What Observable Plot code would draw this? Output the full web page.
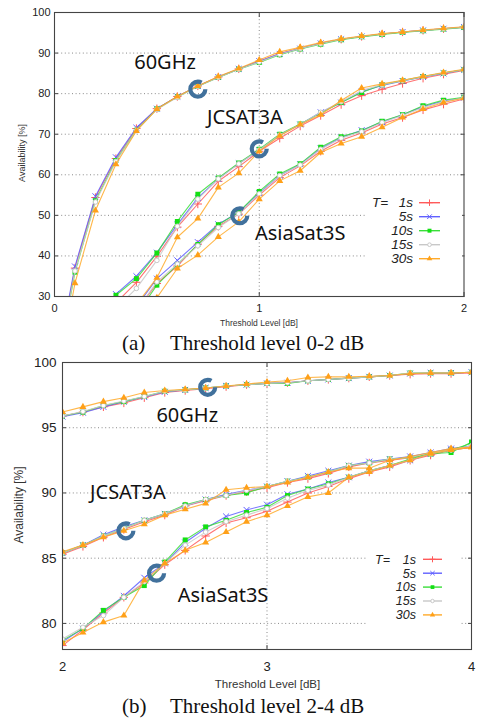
<!DOCTYPE html>
<html><head><meta charset="utf-8">
<script src="https://cdn.jsdelivr.net/npm/d3@7"></script>
<script src="https://cdn.jsdelivr.net/npm/@observablehq/plot@0.6"></script>
<style>
body{margin:0;background:#fff;}
#wrap{position:relative;width:477px;height:720px;overflow:hidden;background:#fff;font-family:"Liberation Sans",Arial,sans-serif;}
.abs{position:absolute;white-space:nowrap;line-height:1;}
.cap{font-family:"Liberation Serif","Times New Roman",serif;font-size:21px;color:#111;}
.rot{transform:translate(-50%,-50%) rotate(-90deg);color:#333;}
.xl{transform:translate(-50%,0);color:#333;}
</style></head><body><div id="wrap"></div>
<script>
// ---------- data ----------
const xA = [0.0,0.1,0.2,0.3,0.4,0.5,0.6,0.7,0.8,0.9,1.0,1.1,1.2,1.3,1.4,1.5,1.6,1.7,1.8,1.9,2.0];
const xB = [2.0,2.1,2.2,2.3,2.4,2.5,2.6,2.7,2.8,2.9,3.0,3.1,3.2,3.3,3.4,3.5,3.6,3.7,3.8,3.9,4.0];
const tLabels = ["1s","5s","10s","15s","30s"];
const satNames = ["60GHz","JCSAT3A","AsiaSat3S"];

// Panel (a) 0-2 dB
const a60_1s  = [10,37.0,54.4,64.0,71.4,76.3,79.3,81.9,84.1,86.1,88.0,89.9,91.2,92.4,93.4,94.1,94.7,95.2,95.6,96.0,96.4];
const a60_5s  = [11,37.4,54.7,64.3,71.6,76.3,79.3,81.9,84.1,86.1,88.0,89.8,91.1,92.4,93.4,94.1,94.7,95.2,95.6,96.0,96.4];
const a60_10s = [9,36.0,53.6,63.5,71.0,76.2,79.2,81.8,84.0,86.0,87.7,89.6,91.0,92.2,93.3,94.0,94.6,95.1,95.5,95.9,96.3];
const a60_15s = [9,36.3,53.3,63.3,70.9,76.1,79.1,81.8,84.0,86.0,87.8,89.7,91.1,92.3,93.4,94.1,94.7,95.2,95.6,96.0,96.4];
const a60_30s = [6,33.3,51.2,62.6,70.8,76.2,79.3,81.9,84.2,86.2,88.3,90.3,91.4,92.6,93.5,94.2,94.8,95.2,95.7,96.1,96.5];

const aJC_1s  = [null,null,22,28.4,33.5,39.9,47.1,52.8,58.4,62.0,65.8,69.0,72.0,74.6,77.3,79.5,81.1,82.5,83.8,84.8,85.7];
const aJC_5s  = [null,null,24,30.6,35.0,40.8,47.7,54.3,59.0,62.8,66.1,69.8,72.4,75.4,77.8,80.5,82.0,83.1,84.1,85.0,85.9];
const aJC_10s = [null,null,24,30.3,34.4,40.7,48.5,55.2,59.2,62.9,66.3,70.0,72.5,75.2,77.8,80.3,82.2,83.2,84.2,85.1,85.9];
const aJC_15s = [null,null,21,27.0,32.0,38.9,47.3,54.0,59.0,62.7,66.1,69.8,72.4,75.4,78.0,80.8,82.2,83.2,84.2,85.1,85.9];
const aJC_30s = [null,null,12,20.0,28.0,34.6,44.6,49.2,56.9,60.4,65.8,69.6,72.4,74.8,78.3,81.4,82.4,83.3,84.3,85.2,86.0];

const aAS_1s  = [null,null,null,20,26.5,33.2,37.5,42.9,47.3,50.3,55.0,59.3,62.2,65.8,68.5,70.3,72.5,74.1,76.0,77.4,78.7];
const aAS_5s  = [null,null,null,21,27.5,34.4,38.9,43.4,47.8,50.8,55.5,59.8,62.6,66.5,69.2,71.0,73.0,74.8,76.8,78.2,79.0];
const aAS_10s = [null,null,null,19,25.5,32.8,37.9,42.8,47.7,50.8,55.9,60.2,62.7,66.8,69.4,70.8,73.2,74.8,77.0,78.4,79.1];
const aAS_15s = [null,null,null,20,26.5,33.6,38.0,42.5,47.0,50.4,55.3,59.8,62.4,66.3,69.0,70.6,72.9,74.6,76.6,78.0,79.0];
const aAS_30s = [null,null,null,17,23.5,29.7,36.9,40.2,44.7,48.4,54.0,58.5,61.0,65.5,67.7,69.4,71.7,74.1,76.2,77.8,78.9];

// Panel (b) 2-4 dB
const b60_1s  = [95.9,96.2,96.6,96.9,97.3,97.7,97.85,98.0,98.15,98.3,98.4,98.45,98.6,98.7,98.8,98.9,99.0,99.1,99.15,99.15,99.2];
const b60_5s  = [95.85,96.15,96.6,97.0,97.35,97.75,97.9,98.05,98.2,98.3,98.4,98.45,98.6,98.7,98.8,98.9,99.0,99.15,99.2,99.2,99.25];
const b60_10s = [95.9,96.2,96.7,97.0,97.4,97.8,97.9,98.05,98.2,98.3,98.4,98.4,98.6,98.7,98.8,98.9,99.0,99.2,99.2,99.2,99.25];
const b60_15s = [95.9,96.25,96.7,97.05,97.4,97.8,97.9,98.05,98.2,98.3,98.4,98.45,98.6,98.7,98.8,98.9,99.0,99.2,99.2,99.2,99.25];
const b60_30s = [96.2,96.6,97.0,97.3,97.7,97.85,97.95,98.05,98.2,98.35,98.5,98.6,98.85,98.9,98.9,98.95,99.0,99.15,99.2,99.2,99.25];

const bJC_1s  = [85.3,85.9,86.6,87.2,87.8,88.3,89.0,89.4,89.8,90.1,90.4,90.8,91.1,91.5,92.0,92.3,92.5,92.7,93.0,93.3,93.5];
const bJC_5s  = [85.4,86.0,86.8,87.4,87.9,88.4,89.0,89.5,89.9,90.2,90.5,90.9,91.3,91.7,92.1,92.4,92.6,92.8,93.1,93.4,93.6];
const bJC_10s = [85.4,86.0,86.7,87.3,87.9,88.4,89.1,89.5,89.8,90.0,90.5,90.9,91.2,91.6,92.1,92.3,92.6,92.7,93.0,93.1,93.9];
const bJC_15s = [85.4,86.0,86.7,87.3,87.9,88.4,89.0,89.5,89.8,90.2,90.5,90.9,91.2,91.6,92.1,92.3,92.6,92.7,93.1,93.3,93.6];
const bJC_30s = [85.5,86.0,86.6,87.1,87.6,88.3,88.75,89.2,90.25,90.4,90.5,90.8,91.2,91.6,91.9,91.9,92.5,92.8,93.1,93.4,93.5];

const bAS_1s  = [78.3,79.5,80.8,82.0,83.1,84.5,85.6,86.7,87.7,88.1,88.6,89.3,90.0,90.5,91.1,91.6,92.0,92.5,92.9,93.3,93.5];
const bAS_5s  = [78.6,79.6,80.9,82.1,83.5,84.6,86.2,87.3,88.2,88.7,89.1,89.9,90.3,90.8,91.2,91.7,92.1,92.5,93.0,93.3,93.6];
const bAS_10s = [78.7,79.6,81.0,82.0,82.9,84.7,86.4,87.4,87.9,88.5,88.9,89.8,90.3,90.7,91.2,91.7,92.1,92.6,93.0,93.3,93.8];
const bAS_15s = [78.8,79.7,80.6,82.0,83.2,84.6,86.0,87.0,87.8,88.3,88.8,89.6,90.2,90.6,91.2,91.7,92.1,92.5,93.0,93.3,93.6];
const bAS_30s = [78.5,79.3,80.1,80.6,83.3,84.6,85.6,86.2,87.0,87.8,88.3,89.0,89.7,90.0,91.2,91.6,92.1,92.5,93.0,93.3,93.5];

// axis ticks
const yTicksA = [30,40,50,60,70,80,90,100];
const yTicksB = [80,85,90,95,100];
const xTicksA = [0,1,2];
const xTicksB = [2,3,4];

// annotations (data units)
const annTextA = ["60GHz","JCSAT3A","AsiaSat3S"];
const annXA = [0.54,0.93,1.20];
const annYA = [87.6,74.1,45.5];
const ringXA = [0.70,1.0,0.905];
const ringYA = [81.1,66.4,49.9];
const annTextB = ["60GHz","JCSAT3A","AsiaSat3S"];
const annXB = [2.61,2.32,2.785];
const annYB = [95.9,90.05,82.1];
const ringXB = [2.71,2.31,2.46];
const ringYB = [98.1,87.1,83.85];

// ---------- drawing ----------
const colors = ["#ff5a5a","#6060ff","#3ade3a","#c8c8c8","#ffaa2a"];
const markFill = ["none","none","#14e014","white","#ffa018"];
const markSym = ["plus","times","square","circle","triangle"];
const markR = [2.8,2.8,2.8,2.3,2.6];

function buildRows(xs, sats) {
  const out = [];
  sats.forEach((series, si) => series.forEach((arr, ti) => arr.forEach((v, i) => {
    if (v != null) out.push({x: xs[i], y: v, sat: satNames[si], ti});
  })));
  return out;
}

function panel(o) {
  const rows = buildRows(o.xs, o.sats);
  const marks = [
    Plot.gridY(o.yTicks, {stroke:"#8a8a8a", strokeOpacity:1, strokeDasharray:"1,2.6", strokeWidth:1}),
    Plot.gridX([o.xGrid], {stroke:"#8a8a8a", strokeOpacity:1, strokeDasharray:"1,2.6", strokeWidth:1}),
    Plot.axisY(o.yTicks, {anchor:"left", tickSize:0, tickPadding:o.yPad, fontSize:o.yFont, label:null, tickFormat:d => String(d)}),
    Plot.axisX(o.xTicks, {anchor:"bottom", tickSize:0, tickPadding:o.xPad, fontSize:o.xFont, label:null, tickFormat:d => String(d)}),
    Plot.axisY(o.yTicks, {anchor:"left", tickSize:-4, tickFormat:() => "", label:null, stroke:"#444"}),
    Plot.axisY(o.yTicks, {anchor:"right", tickSize:-4, tickFormat:() => "", label:null, stroke:"#444"}),
    Plot.axisX(o.xTicks, {anchor:"top", tickSize:-4, tickFormat:() => "", label:null, stroke:"#444"}),
    Plot.axisX(o.xTicks, {anchor:"bottom", tickSize:-4, tickFormat:() => "", label:null, stroke:"#444"})
  ];
  for (let ti = 0; ti < 5; ti++) {
    const d = rows.filter(r => r.ti === ti);
    marks.push(Plot.line(d, {x:"x", y:"y", z:"sat", stroke:colors[ti], strokeWidth:1.1, strokeOpacity:0.85, clip:true}));
    marks.push(Plot.dot(d, {x:"x", y:"y", symbol:markSym[ti], r:markR[ti],
      stroke: (ti===2||ti===4) ? "none" : colors[ti], fill: markFill[ti], strokeWidth:1, clip:true}));
  }
  const ringData = o.ringX.map((x, i) => ({x, y: o.ringY[i]}));
  const annData = o.annText.map((t, i) => ({t, x: o.annX[i], y: o.annY[i]}));
  marks.push(Plot.dot(ringData, {x:"x", y:"y", r:7.5, stroke:"#41719c", strokeWidth:4.2, fill:"none", strokeDasharray:"39 8.2"}));
  marks.push(Plot.text(annData, {x:"x", y:"y", text:"t", fontSize:20, fontFamily:"Noto Sans", fill:"#111"}));
  marks.push(Plot.frame({stroke:"#444", strokeWidth:1.1}));
  return Plot.plot({
    width:477, height:o.height,
    marginLeft:o.ml, marginRight:o.mr, marginTop:o.mt, marginBottom:o.mb,
    x:{domain:o.xDomain, label:null}, y:{domain:o.yDomain, label:null},
    style:{fontFamily:"'Liberation Sans', Arial, sans-serif", color:"#222", background:"transparent", overflow:"visible"},
    marks
  });
}

const wrap = document.getElementById("wrap");
function place(el, top) { el.style.position = "absolute"; el.style.left = "0px"; el.style.top = top + "px"; wrap.appendChild(el); }

const pa = panel({xs:xA, sats:[[a60_1s,a60_5s,a60_10s,a60_15s,a60_30s],[aJC_1s,aJC_5s,aJC_10s,aJC_15s,aJC_30s],[aAS_1s,aAS_5s,aAS_10s,aAS_15s,aAS_30s]],
  xDomain:[0,2], xTicks:xTicksA, xGrid:1, yDomain:[30,100], yTicks:yTicksA,
  height:330, ml:54, mr:13.5, mt:12, mb:34, yPad:4, xPad:8, yFont:11, xFont:11,
  annText:annTextA, annX:annXA, annY:annYA, ringX:ringXA, ringY:ringYA});
place(pa, 0);

const pb = panel({xs:xB, sats:[[b60_1s,b60_5s,b60_10s,b60_15s,b60_30s],[bJC_1s,bJC_5s,bJC_10s,bJC_15s,bJC_30s],[bAS_1s,bAS_5s,bAS_10s,bAS_15s,bAS_30s]],
  xDomain:[2,4], xTicks:xTicksB, xGrid:3, yDomain:[78,100], yTicks:yTicksB,
  height:350, ml:62, mr:6, mt:12, mb:51, yPad:6, xPad:12, yFont:13.5, xFont:13,
  annText:annTextB, annX:annXB, annY:annYB, ringX:ringXB, ringY:ringYB});
place(pb, 350);

// ---------- legends ----------
const NS = "http://www.w3.org/2000/svg";
const ov = document.createElementNS(NS, "svg");
ov.setAttribute("width", 477); ov.setAttribute("height", 720);
ov.style.position = "absolute"; ov.style.left = "0"; ov.style.top = "0";
wrap.appendChild(ov);
const symTypes = [d3.symbolPlus, d3.symbolTimes, d3.symbolSquare, d3.symbolCircle, d3.symbolTriangle];
function legend(L) {
  const g = d3.select(ov).append("g");
  g.append("rect").attr("x", L.bx).attr("y", L.by).attr("width", L.bw).attr("height", L.bh).attr("fill", "white");
  g.append("text").attr("x", L.tx).attr("y", L.y0).attr("dy", "0.35em").attr("font-size", L.fs)
    .attr("font-style", "italic").attr("font-family", "'Liberation Sans', Arial, sans-serif").attr("fill", "#222").text("T=");
  tLabels.forEach((t, i) => {
    const y = L.y0 + i * L.dy;
    g.append("text").attr("x", L.tr).attr("y", y).attr("dy", "0.35em").attr("text-anchor", "end").attr("font-size", L.fs)
      .attr("font-style", "italic").attr("font-family", "'Liberation Sans', Arial, sans-serif").attr("fill", "#222").text(t);
    g.append("line").attr("x1", L.l0).attr("x2", L.l1).attr("y1", y).attr("y2", y).attr("stroke", colors[i]).attr("stroke-width", 1.4);
    const sz = (L.mr * markR[i]) ** 2 * Math.PI;
    g.append("path").attr("transform", `translate(${(L.l0 + L.l1) / 2},${y})`)
      .attr("d", d3.symbol(symTypes[i], sz)())
      .attr("fill", markFill[i]).attr("stroke", (i===2||i===4) ? "none" : colors[i]).attr("stroke-width", 1);
  });
}
legend({bx:365, by:192, bw:97, bh:74, tx:372, tr:413, l0:419, l1:440, y0:202.7, dy:14, fs:13.5, mr:0.8});
legend({bx:366, by:550, bw:95, bh:76, tx:375, tr:416, l0:423, l1:442, y0:559.3, dy:13.9, fs:12.5, mr:0.75});

// ---------- axis titles & captions ----------
function addDiv(html, cls, style) { const d = document.createElement("div"); d.className = "abs " + cls; d.innerHTML = html; Object.assign(d.style, style); wrap.appendChild(d); return d; }
addDiv("Availability [%]", "rot", {left:"21.5px", top:"153px", fontSize:"9px"});
addDiv("Availability [%]", "rot", {left:"18.5px", top:"505px", fontSize:"12px"});
addDiv("Threshold Level [dB]", "xl", {left:"259px", top:"318.5px", fontSize:"8.5px"});
addDiv("Threshold Level [dB]", "xl", {left:"267.5px", top:"679px", fontSize:"11.5px"});
addDiv("(a)", "cap", {left:"122px", top:"332.5px"});
addDiv("Threshold level 0-2 dB", "cap", {left:"170px", top:"332.5px"});
addDiv("(b)", "cap", {left:"122px", top:"695.7px"});
addDiv("Threshold level 2-4 dB", "cap", {left:"170px", top:"695.7px"});
</script></body></html>
